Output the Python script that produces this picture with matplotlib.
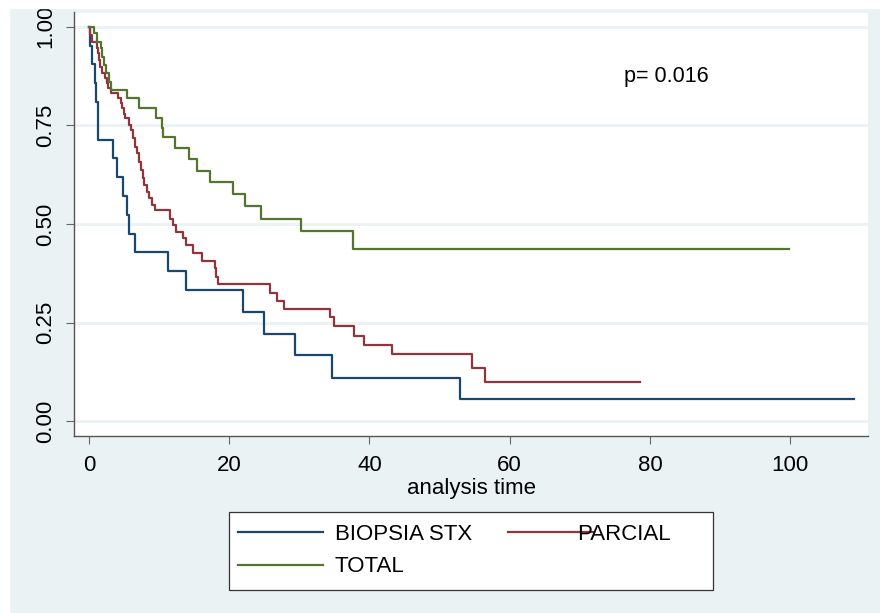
import numpy as np
import matplotlib
matplotlib.use('Agg')
import matplotlib.pyplot as plt
from matplotlib.lines import Line2D
from matplotlib.patches import Rectangle
from matplotlib.legend_handler import HandlerLine2D

plt.rcParams['font.family'] = ['Liberation Sans', 'DejaVu Sans']

# Curvas Kaplan-Meier (tiempo, supervivencia)
t_biopsia = [0, 0.2, 0.47, 0.8, 0.95, 1.28, 3.4, 4.04, 4.8, 5.47, 5.75, 6.56,
             11.3, 13.8, 21.9, 24.9, 29.4, 34.6, 52.9, 109.1]
s_biopsia = [1.0, 0.952, 0.905, 0.857, 0.810, 0.714, 0.667, 0.619, 0.571, 0.524, 0.476, 0.429,
             0.381, 0.333, 0.278, 0.222, 0.167, 0.111, 0.056, 0.056]

t_parcial = [0, 0.14, 0.48, 1.1, 1.28, 1.43, 1.57, 1.9, 2.24, 2.5, 2.7, 3.1,
             4.1, 4.5, 4.76, 5.0, 5.2, 5.7, 5.95, 6.3, 6.56, 6.9, 7.2, 7.37,
             7.66, 7.9, 8.2, 8.6, 8.94, 9.4, 11.6, 12.0, 12.4, 13.45, 13.9, 14.8,
             16.1, 17.9, 18.1, 18.45, 25.8, 26.8, 27.8, 34.3, 35.0, 37.8, 39.2, 43.2,
             54.6, 56.5, 78.6]
s_parcial = [1.0, 0.979, 0.962, 0.945, 0.933, 0.916, 0.899, 0.882, 0.869, 0.857, 0.844, 0.831,
             0.819, 0.806, 0.793, 0.780, 0.768, 0.751, 0.738, 0.717, 0.696, 0.679, 0.658, 0.637,
             0.616, 0.599, 0.582, 0.565, 0.548, 0.535, 0.514, 0.497, 0.480, 0.464, 0.447, 0.427,
             0.407, 0.388, 0.366, 0.347, 0.326, 0.306, 0.285, 0.264, 0.242, 0.217, 0.193, 0.170,
             0.135, 0.100, 0.100]

t_total = [0, 0.71, 1.19, 1.66, 1.9, 2.14, 2.38, 2.85, 3.1, 5.47, 7.13, 9.5,
           10.45, 10.6, 12.3, 14.3, 15.4, 17.3, 20.6, 22.3, 24.5, 30.2, 37.6, 99.9]
s_total = [1.0, 0.983, 0.962, 0.945, 0.924, 0.903, 0.882, 0.861, 0.840, 0.819, 0.793, 0.768,
           0.743, 0.721, 0.692, 0.664, 0.635, 0.606, 0.576, 0.546, 0.514, 0.483, 0.437, 0.437]

y_ticks = [0, 0.25, 0.5, 0.75, 1.0]
x_ticks = [0, 20, 40, 60, 80, 100]
p_text = 'p= 0.016'

c_blue = '#1a476f'
c_red = '#90353b'
c_green = '#55752f'
bg = '#eaf2f4'


# manejador para mover la linea de la leyenda (PARCIAL se monta sobre el texto, como en Stata)
class ShiftedLine(HandlerLine2D):
    def __init__(self, shift, **kw):
        super().__init__(**kw)
        self.shift = shift

    def get_xdata(self, legend, xdescent, ydescent, width, height, fontsize):
        xd, xm = super().get_xdata(legend, xdescent, ydescent, width, height, fontsize)
        return np.asarray(xd) + self.shift, np.asarray(xm) + self.shift


fig = plt.figure(figsize=(8.8, 6.13), dpi=100)
fig.set_facecolor(bg)
ax = fig.add_axes([74 / 880, 177 / 613, 794 / 880, 423.5 / 613])
ax.set_facecolor('white')

l1, = ax.step(t_biopsia, s_biopsia, where='post', color=c_blue, lw=1.6, label='BIOPSIA STX')
l2, = ax.step(t_parcial, s_parcial, where='post', color=c_red, lw=1.6, label='PARCIAL')
l3, = ax.step(t_total, s_total, where='post', color=c_green, lw=1.6, label='TOTAL')

ax.set_xlim(-2.14, 111.1)
ax.set_ylim(-0.037, 1.036)
ax.set_xticks(x_ticks)
ax.set_yticks(y_ticks)
ax.set_yticklabels(['%.2f' % v for v in y_ticks])
ax.yaxis.grid(True, color=bg, lw=2)
ax.set_axisbelow(True)

for s in ['top', 'right']:
    ax.spines[s].set_visible(False)
for s in ['left', 'bottom']:
    ax.spines[s].set_color('#555555')
    ax.spines[s].set_linewidth(1)

ax.tick_params(axis='both', length=5.8, width=0.8, color='#666666', labelsize=16, labelcolor='black')
ax.tick_params(axis='x', pad=8)
ax.tick_params(axis='y', pad=7, labelrotation=90)
for lab in ax.get_yticklabels():
    lab.set_va('center')

ax.set_xlabel('analysis time', fontsize=16, labelpad=1)
ax.text(76.3, 0.875, p_text, fontsize=15.5, va='center', ha='left')

# leyenda
dummy = Line2D([], [], color='none')
leg = ax.legend([l1, l3, l2, dummy], ['BIOPSIA STX', 'TOTAL', 'PARCIAL', 'XXXXXXXXl'],
                ncol=2, fontsize=16, loc='upper center',
                bbox_to_anchor=(471 / 880, 1 - 512 / 613), bbox_transform=fig.transFigure,
                borderaxespad=0, frameon=True, fancybox=False, framealpha=1,
                edgecolor='#333333', handlelength=3.83, handletextpad=0.40,
                columnspacing=0.5, borderpad=0.55, labelspacing=0.5,
                handler_map={l1: ShiftedLine(-2.3), l3: ShiftedLine(-2.3),
                             l2: ShiftedLine(17.9)})
leg.get_frame().set_linewidth(0.9)
leg.get_texts()[3].set_color('none')

# bordes blancos del recorte original
fig.add_artist(Rectangle((0, 1 - 8 / 613), 1, 8 / 613, transform=fig.transFigure,
                         color='white', zorder=10))
fig.add_artist(Rectangle((0, 0), 9 / 880, 1, transform=fig.transFigure,
                         color='white', zorder=10))

fig.savefig('out.png', dpi=100)
